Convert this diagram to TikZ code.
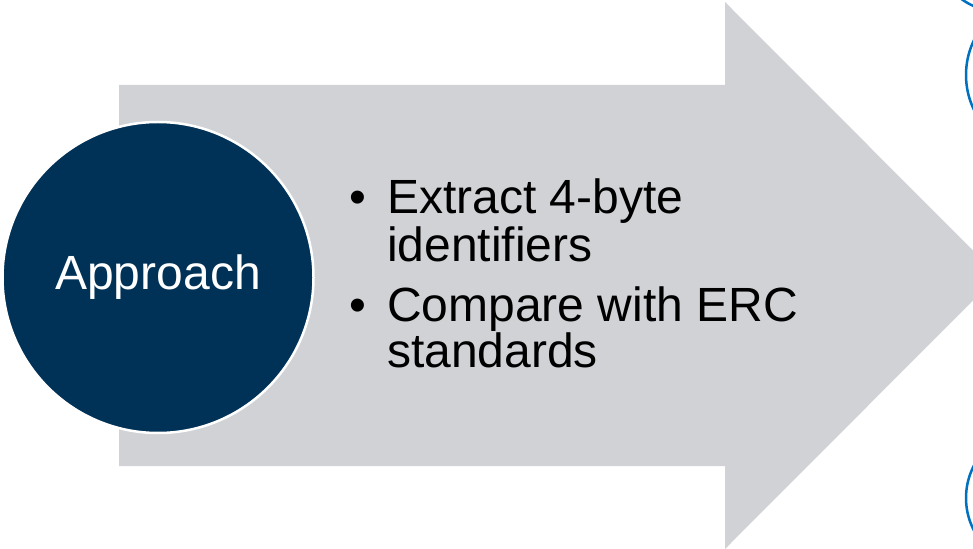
\documentclass[tikz,border=0pt]{standalone}
\usepackage{fontspec}
\setmainfont{Liberation Sans}
\definecolor{shaftgray}{HTML}{D0D2D6}
\definecolor{navy}{HTML}{003258}
\definecolor{ringblue}{HTML}{0070C0}
\begin{document}
\begin{tikzpicture}[x=1bp,y=-1bp,
  bigtext/.style={inner sep=0pt,font=\fontsize{48bp}{48bp}\selectfont},
  bullettext/.style={bigtext,anchor=base west,text=black},
  bulletdot/.style={bigtext,anchor=base,text=black},
  ring/.style={draw=ringblue,line width=2.5bp,fill=white}]
\useasboundingbox (0,0) rectangle (973,549);
\clip (0,0) rectangle (973,549);
% block arrow
\fill[shaftgray] (119,85) -- (725,85) -- (725,2) -- (998,275.5)
  -- (725,549) -- (725,466) -- (119,466) -- cycle;
% outlined circles at the right edge
\draw[ring] (1005,-62) circle (75);
\draw[ring] (1046,75) circle (80);
\draw[ring] (1036,498) circle (70);
% label circle
\node[circle,fill=navy,draw=white,line width=2.5bp,minimum size=311bp,inner sep=0pt] (approach) at (158,277.5) {};
\node[bigtext,text=white] (approachlbl) at (approach.center) {Approach};
% bullet list
\node[bulletdot] (b1) at (358,214) {•};
\node[bullettext] (l1) at (387,214) {Extract 4-byte};
\node[bullettext] (l2) at (387,262) {identifiers};
\node[bulletdot] (b2) at (358,322) {•};
\node[bullettext] (l3) at (387,322) {Compare with ERC};
\node[bullettext] (l4) at (387,368) {standards};
\end{tikzpicture}
\end{document}
